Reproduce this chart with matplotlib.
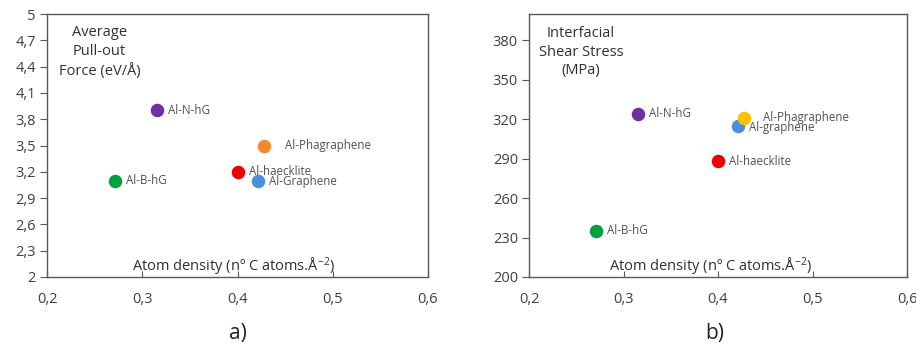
import matplotlib
matplotlib.use("Agg")
import matplotlib.pyplot as plt

plt.rcParams['font.family'] = ['Open Sans', 'DejaVu Sans']
plt.rcParams['mathtext.fontset'] = 'custom'
plt.rcParams['mathtext.rm'] = 'Open Sans'
plt.rcParams['mathtext.it'] = 'Open Sans'
plt.rcParams['mathtext.default'] = 'regular'

# Materials and atom density (C atoms per Å²)
materials = ["Al-N-hG", "Al-B-hG", "Al-haecklite", "Al-Graphene", "Al-Phagraphene"]
density = [0.315, 0.271, 0.400, 0.421, 0.428]

# Average pull-out force (eV/Å)
pullout_force = [3.90, 3.10, 3.20, 3.10, 3.50]
# Interfacial shear stress (MPa)
shear_stress = [324, 235, 288, 315, 321]

colors_a = ["#7030A0", "#00A040", "#EE0000", "#4A90D9", "#F08A30"]
colors_b = ["#7030A0", "#00A040", "#EE0000", "#4A90D9", "#FFC000"]

labels_b = ["Al-N-hG", "Al-B-hG", "Al-haecklite", "Al-graphene", "Al-Phagraphene"]

x_ticks = [0.2, 0.3, 0.4, 0.5, 0.6]
y_ticks_a = [2, 2.3, 2.6, 2.9, 3.2, 3.5, 3.8, 4.1, 4.4, 4.7, 5]
y_ticks_b = [200, 230, 260, 290, 320, 350, 380]

# label offsets in points (dx, dy)
offsets_a = [(8, 0), (8, 0), (8, 0), (8, -1), (15, 0)]
offsets_b = [(8, 0), (8, 0), (8, 0), (8, -1), (13, 0)]

fig = plt.figure(figsize=(9.16, 3.48), dpi=100)
ax_a = fig.add_axes([47/916, 1 - 277/348, 381/916, 263/348])
ax_b = fig.add_axes([529/916, 1 - 277/348, 378/916, 263/348])

txt_col = "#404040"
spine_col = "#595959"


def comma(v):
    s = f"{v:g}"
    return s.replace(".", ",")


def style(ax, yticks, ylim):
    ax.set_xlim(0.2, 0.6)
    ax.set_ylim(*ylim)
    ax.set_xticks(x_ticks)
    ax.set_xticklabels([comma(v) for v in x_ticks])
    ax.set_yticks(yticks)
    ax.set_yticklabels([comma(v) for v in yticks])
    for s in ax.spines.values():
        s.set_color(spine_col)
        s.set_linewidth(1.0)
    ax.tick_params(axis="x", direction="in", length=4, width=0.8, color=spine_col,
                   labelsize=10.5, labelcolor=txt_col, pad=11)
    ax.tick_params(axis="y", direction="out", length=5, width=0.8, color=spine_col,
                   labelsize=10.5, labelcolor=txt_col, pad=3)


def scatter(ax, ys, cols, labels, offs):
    for x, y, c, lab, off in zip(density, ys, cols, labels, offs):
        ax.scatter([x], [y], s=95, color=c, zorder=3, linewidths=0)
        ax.annotate(lab, (x, y), xytext=off, textcoords="offset points",
                    ha="left", va="center", fontsize=8.3, color="#505050", zorder=4)


style(ax_a, y_ticks_a, (2, 5))
style(ax_b, y_ticks_b, (200, 400))

scatter(ax_a, pullout_force, colors_a, materials, offsets_a)
scatter(ax_b, shear_stress, colors_b, labels_b, offsets_b)

xlabel = r"Atom density (nº C atoms.Å$^{\mathregular{-2}}$)"
ax_a.text(0.49, 0.04, xlabel, transform=ax_a.transAxes, ha="center", va="center",
          fontsize=10.5, color="#303030")
ax_b.text(0.48, 0.04, xlabel, transform=ax_b.transAxes, ha="center", va="center",
          fontsize=10.5, color="#303030")

ax_a.text(0.138, 0.855, "Average\nPull-out\nForce (eV/Å)", transform=ax_a.transAxes,
          ha="center", va="center", fontsize=10.5, color="#303030", linespacing=1.35)
ax_b.text(0.138, 0.855, "Interfacial\nShear Stress\n(MPa)", transform=ax_b.transAxes,
          ha="center", va="center", fontsize=10.5, color="#303030", linespacing=1.35)

fig.text(238/916, 1 - 333/348, "a)", ha="center", va="center", fontsize=15, color="#202020")
fig.text(715/916, 1 - 333/348, "b)", ha="center", va="center", fontsize=15, color="#202020")

fig.savefig("out.png", dpi=100)
